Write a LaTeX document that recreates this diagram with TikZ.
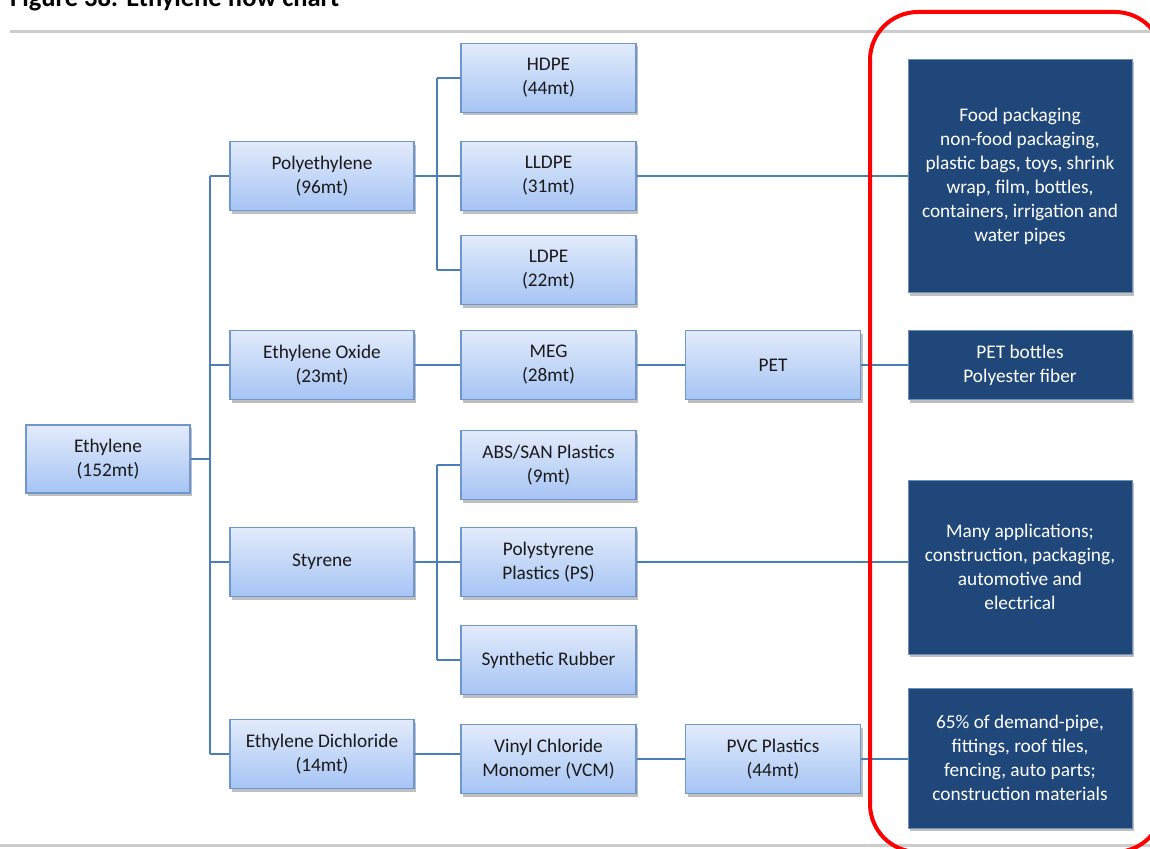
\documentclass[tikz,border=0pt]{standalone}
\usepackage{fontspec}
\setmainfont{Carlito}
\usetikzlibrary{shadows}
\definecolor{boxtop}{HTML}{E2EBFB}
\definecolor{boxbot}{HTML}{A6C4F4}
\definecolor{boxedge}{HTML}{6F97CF}
\definecolor{darkfill}{HTML}{1F477A}
\definecolor{darkedge}{HTML}{6E8FB8}
\definecolor{conn}{HTML}{4A7EBB}
\definecolor{txt}{HTML}{1A1A1A}
\tikzset{
  lbox/.style={draw=boxedge, line width=1.2pt, top color=boxtop, bottom color=boxbot,
    align=center, text=txt, font=\fontsize{19.3}{24}\selectfont, inner sep=1pt,
    drop shadow={shadow xshift=2pt, shadow yshift=-3pt, fill=black, opacity=0.25}},
  dbox/.style={draw=darkedge, line width=1pt, fill=darkfill, align=center, text=white,
    font=\fontsize{19.3}{24}\selectfont, inner sep=1pt,
    drop shadow={shadow xshift=2pt, shadow yshift=-3pt, fill=black, opacity=0.25}},
  conn/.style={draw=conn, line width=1.5pt},
  wA/.style={minimum width=164pt, minimum height=68pt},
  wB/.style={minimum width=184pt, minimum height=69pt},
  wC/.style={minimum width=175pt, minimum height=69pt},
}
\begin{document}
\begin{tikzpicture}[x=1pt,y=-1pt]
\useasboundingbox (0,0) rectangle (1150,848);
\clip (0,0) rectangle (1150,848);
% title and rules
\node[anchor=base west, inner sep=0, font=\fontsize{26.5}{28}\selectfont\bfseries, text=black] (title) at (10,7) {Figure 38: Ethylene flow chart};
\draw[draw=black!20, line width=3pt] (10,32) -- (1150,32);
\draw[draw=black!20, line width=3pt] (0,845) -- (1150,845);
% column 1
\node[lbox, wA] (eth) at (108,459) {Ethylene\\(152mt)};
% column 2
\node[lbox, wB] (pe) at (322,176) {Polyethylene\\(96mt)};
\node[lbox, wB] (eo) at (322,365) {Ethylene Oxide\\(23mt)};
\node[lbox, wB] (sty) at (322,562) {Styrene};
\node[lbox, wB] (edc) at (322,754) {Ethylene Dichloride\\(14mt)};
% column 3
\node[lbox, wC] (hdpe) at (548.5,78) {HDPE\\(44mt)};
\node[lbox, wC] (lldpe) at (548.5,176) {LLDPE\\(31mt)};
\node[lbox, wC] (ldpe) at (548.5,270) {LDPE\\(22mt)};
\node[lbox, wC] (meg) at (548.5,365) {MEG\\(28mt)};
\node[lbox, wC] (abs) at (548.5,465) {ABS/SAN Plastics\\(9mt)};
\node[lbox, wC] (ps) at (548.5,562) {Polystyrene\\Plastics (PS)};
\node[lbox, wC] (rub) at (548.5,660) {Synthetic Rubber};
\node[lbox, wC] (vcm) at (548.5,759) {Vinyl Chloride\\Monomer (VCM)};
% column 4
\node[lbox, wC] (pet) at (773,365) {PET};
\node[lbox, wC] (pvc) at (773,759) {PVC Plastics\\(44mt)};
% applications
\node[dbox, minimum width=224pt, minimum height=233pt] (app1) at (1020,176) {Food packaging\\non-food packaging,\\plastic bags, toys, shrink\\wrap, film, bottles,\\containers, irrigation and\\water pipes};
\node[dbox, minimum width=224pt, minimum height=69pt] (app2) at (1020,365) {PET bottles\\Polyester fiber};
\node[dbox, minimum width=224pt, minimum height=174pt] (app3) at (1020,567) {Many applications;\\construction, packaging,\\automotive and\\electrical};
\node[dbox, minimum width=224pt, minimum height=140pt] (app4) at (1020,758) {65\% of demand-pipe,\\fittings, roof tiles,\\fencing, auto parts;\\construction materials};
% connectors
\coordinate (tA) at (210,0);
\coordinate (tB) at (437,0);
\draw[conn] (eth.east) -- (eth.east -| tA);
\draw[conn] (pe.west -| tA) -- (edc.west -| tA);
\draw[conn] (pe.west -| tA) -- (pe.west);
\draw[conn] (eo.west -| tA) -- (eo.west);
\draw[conn] (sty.west -| tA) -- (sty.west);
\draw[conn] (edc.west -| tA) -- (edc.west);
% polyethylene branch
\draw[conn] (pe.east) -- (lldpe.west);
\draw[conn] (hdpe.west -| tB) -- (ldpe.west -| tB);
\draw[conn] (hdpe.west -| tB) -- (hdpe.west);
\draw[conn] (ldpe.west -| tB) -- (ldpe.west);
\draw[conn] (lldpe.east) -- (lldpe.east -| app1.west);
% ethylene oxide branch
\draw[conn] (eo.east) -- (meg.west);
\draw[conn] (meg.east) -- (pet.west);
\draw[conn] (pet.east) -- (app2.west);
% styrene branch
\draw[conn] (sty.east) -- (ps.west);
\draw[conn] (abs.west -| tB) -- (rub.west -| tB);
\draw[conn] (abs.west -| tB) -- (abs.west);
\draw[conn] (rub.west -| tB) -- (rub.west);
\draw[conn] (ps.east) -- (ps.east -| app3.west);
% dichloride branch
\draw[conn] (edc.east) -- (edc.east -| vcm.west);
\draw[conn] (vcm.east) -- (pvc.west);
\draw[conn] (pvc.east) -- (pvc.east -| app4.west);
% red highlight
\draw[red, line width=4pt, rounded corners=48pt] (870,12) rectangle (1163,852);
\end{tikzpicture}
\end{document}
